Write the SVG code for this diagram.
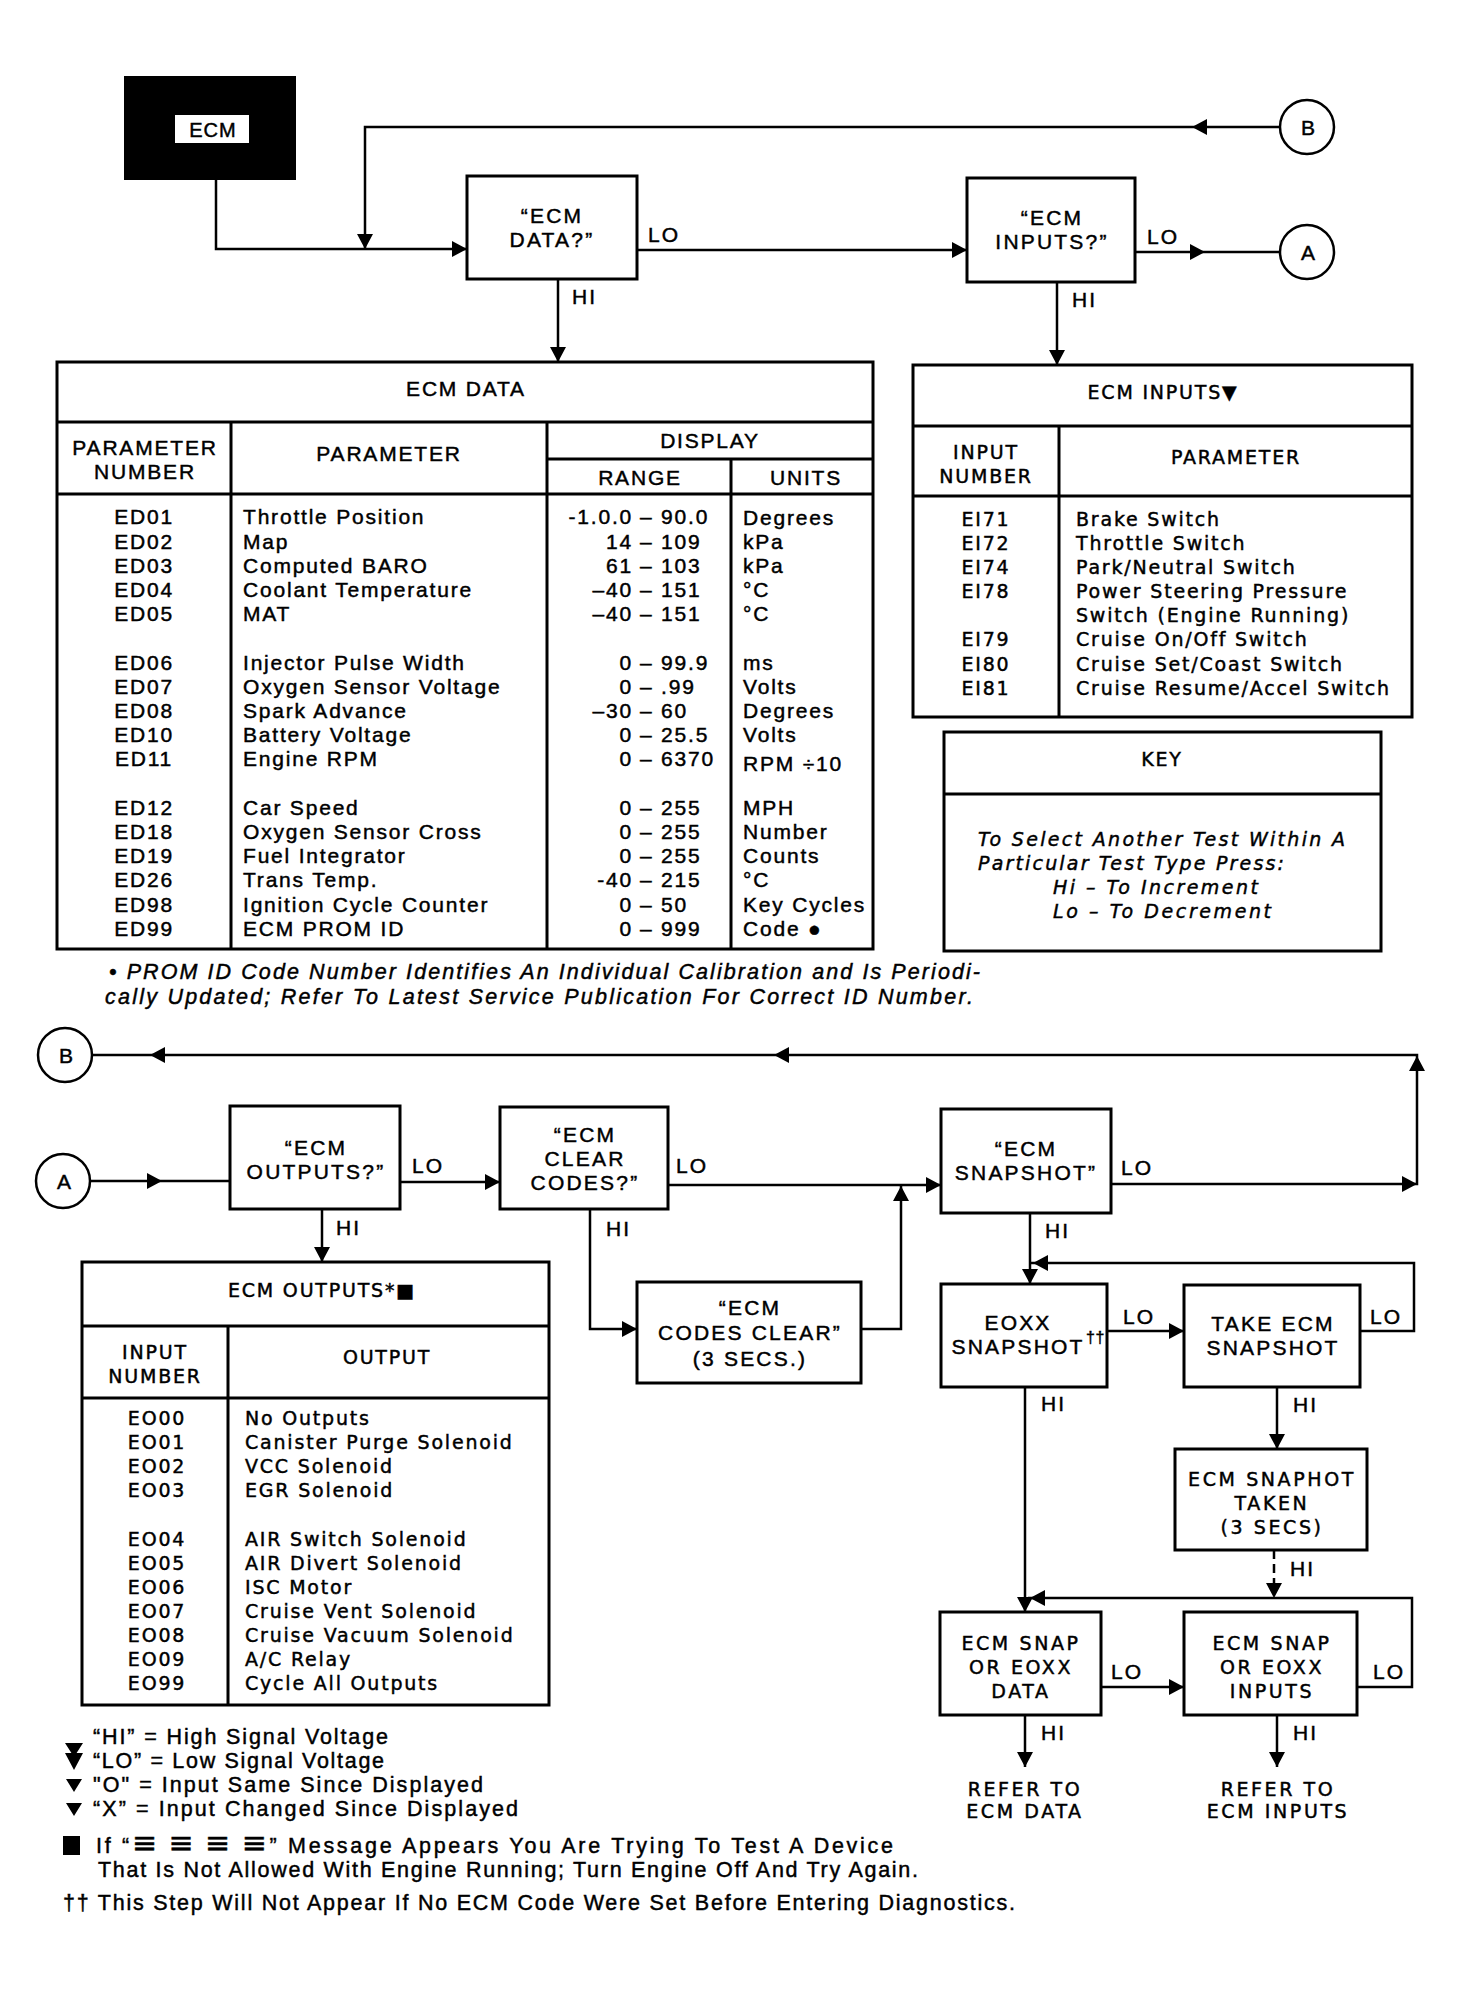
<svg xmlns="http://www.w3.org/2000/svg" xmlns:xlink="http://www.w3.org/1999/xlink" width="1460" height="1989" viewBox="0 0 1460 1989">
<defs>
<style>
.bx{fill:#fff;stroke:#000;stroke-width:3}
.ln{fill:none;stroke:#000;stroke-width:2.5}
.dash{stroke-dasharray:9,5}
text{fill:#000;stroke:#000;stroke-width:0.45}
.f{font-family:"Liberation Sans",Arial,sans-serif;font-size:21px;letter-spacing:2.2px;text-anchor:middle}
.fl{font-family:"Liberation Sans",Arial,sans-serif;font-size:21px;letter-spacing:2px}
.d{font-family:"Liberation Sans",Arial,sans-serif;font-size:21px;letter-spacing:1.8px}
.w{font-family:"DejaVu Sans",Verdana,sans-serif;font-size:19px;letter-spacing:1.8px}
.w2{font-family:"DejaVu Sans",Verdana,sans-serif;font-size:19px;letter-spacing:2.6px;text-anchor:middle}
.it{font-family:"Liberation Sans",Arial,sans-serif;font-style:italic;font-size:21.5px}
.wi{font-family:"DejaVu Sans",Verdana,sans-serif;font-style:oblique;font-size:19px}
.lg{font-family:"Liberation Sans",Arial,sans-serif;font-size:21.5px}
.big{font-family:"DejaVu Sans",sans-serif;font-size:30px}
.c{text-anchor:middle}
.e{text-anchor:end}
</style>
<path id="ar" d="M0,0 L-15,-8 L-15,8 Z" fill="#000"/>
</defs>
<rect width="1460" height="1989" fill="#fff"/>

<!-- ================= CONNECTORS ================= -->
<g id="connectors">
  <path class="ln" d="M216,180 V249 H467"/>
  <use xlink:href="#ar" transform="translate(467,249)"/>
  <path class="ln" d="M1280,127 H365 V249"/>
  <use xlink:href="#ar" transform="translate(1192,127) rotate(180)"/>
  <use xlink:href="#ar" transform="translate(365,249) rotate(90)"/>
  <path class="ln" d="M637,250 H967"/>
  <use xlink:href="#ar" transform="translate(967,250)"/>
  <path class="ln" d="M1135,252 H1280"/>
  <use xlink:href="#ar" transform="translate(1205,252)"/>
  <path class="ln" d="M558,279 V362"/>
  <use xlink:href="#ar" transform="translate(558,362) rotate(90)"/>
  <path class="ln" d="M1057,282 V365"/>
  <use xlink:href="#ar" transform="translate(1057,365) rotate(90)"/>

  <path class="ln" d="M1111,1184 H1417 V1055 H92"/>
  <use xlink:href="#ar" transform="translate(1417,1184)"/>
  <use xlink:href="#ar" transform="translate(1417,1056) rotate(-90)"/>
  <use xlink:href="#ar" transform="translate(774,1055) rotate(180)"/>
  <use xlink:href="#ar" transform="translate(150,1055) rotate(180)"/>
  <path class="ln" d="M90,1181 H230"/>
  <use xlink:href="#ar" transform="translate(162,1181)"/>
  <path class="ln" d="M400,1182 H500"/>
  <use xlink:href="#ar" transform="translate(500,1182)"/>
  <path class="ln" d="M668,1185 H941"/>
  <use xlink:href="#ar" transform="translate(941,1185)"/>
  <path class="ln" d="M322,1209 V1262"/>
  <use xlink:href="#ar" transform="translate(322,1262) rotate(90)"/>
  <path class="ln" d="M590,1209 V1329 H637"/>
  <use xlink:href="#ar" transform="translate(637,1329)"/>
  <path class="ln" d="M861,1329 H901 V1185"/>
  <use xlink:href="#ar" transform="translate(901,1186) rotate(-90)"/>
  <path class="ln" d="M1030,1213 V1284"/>
  <use xlink:href="#ar" transform="translate(1030,1284) rotate(90)"/>
  <path class="ln" d="M1107,1331 H1184"/>
  <use xlink:href="#ar" transform="translate(1184,1331)"/>
  <path class="ln" d="M1360,1331 H1414 V1263 H1031"/>
  <use xlink:href="#ar" transform="translate(1033,1263) rotate(180)"/>
  <path class="ln" d="M1277,1387 V1449"/>
  <use xlink:href="#ar" transform="translate(1277,1449) rotate(90)"/>
  <path class="ln dash" d="M1274,1550 V1590"/>
  <use xlink:href="#ar" transform="translate(1274,1598) rotate(90)"/>
  <path class="ln" d="M1025,1387 V1612"/>
  <use xlink:href="#ar" transform="translate(1025,1612) rotate(90)"/>
  <path class="ln" d="M1357,1687 H1412 V1598 H1028"/>
  <use xlink:href="#ar" transform="translate(1030,1598) rotate(180)"/>
  <path class="ln" d="M1101,1687 H1184"/>
  <use xlink:href="#ar" transform="translate(1184,1687)"/>
  <path class="ln" d="M1025,1715 V1767"/>
  <use xlink:href="#ar" transform="translate(1025,1767) rotate(90)"/>
  <path class="ln" d="M1277,1715 V1767"/>
  <use xlink:href="#ar" transform="translate(1277,1767) rotate(90)"/>
</g>

<g id="edge-labels" class="fl">
  <text x="648" y="242">LO</text>
  <text x="572" y="304">HI</text>
  <text x="1147" y="244">LO</text>
  <text x="1072" y="307">HI</text>
  <text x="412" y="1173">LO</text>
  <text x="676" y="1173">LO</text>
  <text x="1121" y="1175">LO</text>
  <text x="336" y="1235">HI</text>
  <text x="606" y="1236">HI</text>
  <text x="1045" y="1238">HI</text>
  <text x="1123" y="1324">LO</text>
  <text x="1370" y="1324">LO</text>
  <text x="1293" y="1412">HI</text>
  <text x="1041" y="1411">HI</text>
  <text x="1290" y="1576">HI</text>
  <text x="1111" y="1679">LO</text>
  <text x="1373" y="1679">LO</text>
  <text x="1041" y="1740">HI</text>
  <text x="1293" y="1740">HI</text>
</g>

<!-- ================= NODES ================= -->
<g id="ecm">
  <rect x="124" y="76" width="172" height="104" fill="#000"/>
  <rect x="175" y="115" width="74" height="28" fill="#fff"/>
  <text class="f" x="213" y="137" style="font-size:20px;letter-spacing:1px">ECM</text>
</g>

<g id="ecm-data-q">
  <rect class="bx" x="467" y="176" width="170" height="103"/>
  <text class="f" x="552" y="223">“ECM</text>
  <text class="f" x="552" y="247">DATA?”</text>
</g>

<g id="ecm-inputs-q">
  <rect class="bx" x="967" y="178" width="168" height="104"/>
  <text class="f" x="1052" y="225">“ECM</text>
  <text class="f" x="1052" y="249">INPUTS?”</text>
</g>

<g id="circle-b-top">
  <circle cx="1307" cy="127" r="27" class="bx" style="stroke-width:2.5"/>
  <text class="f" x="1308" y="135" style="letter-spacing:0">B</text>
</g>
<g id="circle-a-top">
  <circle cx="1307" cy="252" r="27" class="bx" style="stroke-width:2.5"/>
  <text class="f" x="1308" y="260" style="letter-spacing:0">A</text>
</g>

<g id="ecm-data-table">
  <rect class="bx" x="57" y="362" width="816" height="587"/>
  <path class="ln" style="stroke-width:3" d="M57,422 H873 M231,422 V949 M547,422 V949 M547,459 H873 M731,459 V949 M57,494 H873"/>
  <text class="d c" x="466" y="396">ECM DATA</text>
  <text class="d c" x="145" y="455">PARAMETER</text>
  <text class="d c" x="145" y="479">NUMBER</text>
  <text class="d c" x="389" y="461">PARAMETER</text>
  <text class="d c" x="710" y="448">DISPLAY</text>
  <text class="d c" x="640" y="485">RANGE</text>
  <text class="d c" x="806" y="485">UNITS</text>
  <g class="d c">
    <text x="144" y="524">ED01</text>
    <text x="144" y="549">ED02</text>
    <text x="144" y="573">ED03</text>
    <text x="144" y="597">ED04</text>
    <text x="144" y="621">ED05</text>
    <text x="144" y="670">ED06</text>
    <text x="144" y="694">ED07</text>
    <text x="144" y="718">ED08</text>
    <text x="144" y="742">ED10</text>
    <text x="144" y="766">ED11</text>
    <text x="144" y="815">ED12</text>
    <text x="144" y="839">ED18</text>
    <text x="144" y="863">ED19</text>
    <text x="144" y="887">ED26</text>
    <text x="144" y="912">ED98</text>
    <text x="144" y="936">ED99</text>
  </g>
  <g class="d">
    <text x="243" y="524">Throttle Position</text>
    <text x="243" y="549">Map</text>
    <text x="243" y="573">Computed BARO</text>
    <text x="243" y="597">Coolant Temperature</text>
    <text x="243" y="621">MAT</text>
    <text x="243" y="670">Injector Pulse Width</text>
    <text x="243" y="694">Oxygen Sensor Voltage</text>
    <text x="243" y="718">Spark Advance</text>
    <text x="243" y="742">Battery Voltage</text>
    <text x="243" y="766">Engine RPM</text>
    <text x="243" y="815">Car Speed</text>
    <text x="243" y="839">Oxygen Sensor Cross</text>
    <text x="243" y="863">Fuel Integrator</text>
    <text x="243" y="887">Trans Temp.</text>
    <text x="243" y="912">Ignition Cycle Counter</text>
    <text x="243" y="936">ECM PROM ID</text>
  </g>
  <g class="d e">
    <text x="633" y="524">-1.0.0</text>
    <text x="633" y="549">14</text>
    <text x="633" y="573">61</text>
    <text x="633" y="597">–40</text>
    <text x="633" y="621">–40</text>
    <text x="633" y="670">0</text>
    <text x="633" y="694">0</text>
    <text x="633" y="718">–30</text>
    <text x="633" y="742">0</text>
    <text x="633" y="766">0</text>
    <text x="633" y="815">0</text>
    <text x="633" y="839">0</text>
    <text x="633" y="863">0</text>
    <text x="633" y="887">-40</text>
    <text x="633" y="912">0</text>
    <text x="633" y="936">0</text>
  </g>
  <g class="d">
    <text x="640" y="524">– 90.0</text>
    <text x="640" y="549">– 109</text>
    <text x="640" y="573">– 103</text>
    <text x="640" y="597">– 151</text>
    <text x="640" y="621">– 151</text>
    <text x="640" y="670">– 99.9</text>
    <text x="640" y="694">– .99</text>
    <text x="640" y="718">– 60</text>
    <text x="640" y="742">– 25.5</text>
    <text x="640" y="766">– 6370</text>
    <text x="640" y="815">– 255</text>
    <text x="640" y="839">– 255</text>
    <text x="640" y="863">– 255</text>
    <text x="640" y="887">– 215</text>
    <text x="640" y="912">– 50</text>
    <text x="640" y="936">– 999</text>
  </g>
  <g class="d">
    <text x="743" y="525">Degrees</text>
    <text x="743" y="549">kPa</text>
    <text x="743" y="573">kPa</text>
    <text x="743" y="597">°C</text>
    <text x="743" y="621">°C</text>
    <text x="743" y="670">ms</text>
    <text x="743" y="694">Volts</text>
    <text x="743" y="718">Degrees</text>
    <text x="743" y="742">Volts</text>
    <text x="743" y="771">RPM ÷10</text>
    <text x="743" y="815">MPH</text>
    <text x="743" y="839">Number</text>
    <text x="743" y="863">Counts</text>
    <text x="743" y="887">°C</text>
    <text x="743" y="912">Key Cycles</text>
    <text x="743" y="936">Code ●</text>
  </g>
</g>

<g id="prom-note" class="it">
  <text x="109" y="979" textLength="871" lengthAdjust="spacing">• PROM ID Code Number Identifies An Individual Calibration  and Is Periodi-</text>
  <text x="105" y="1004" textLength="868" lengthAdjust="spacing">cally  Updated; Refer To Latest Service Publication For Correct ID Number.</text>
</g>

<g id="ecm-inputs-table">
  <rect class="bx" x="913" y="365" width="499" height="352"/>
  <path class="ln" style="stroke-width:3" d="M913,426 H1412 M1059,426 V717 M913,496 H1412"/>
  <text class="w c" x="1163" y="399">ECM INPUTS▼</text>
  <text class="w c" x="986" y="459">INPUT</text>
  <text class="w c" x="986" y="483">NUMBER</text>
  <text class="w c" x="1236" y="464">PARAMETER</text>
  <g class="w c">
    <text x="986" y="526">EI71</text>
    <text x="986" y="550">EI72</text>
    <text x="986" y="574">EI74</text>
    <text x="986" y="598">EI78</text>
    <text x="986" y="646">EI79</text>
    <text x="986" y="671">EI80</text>
    <text x="986" y="695">EI81</text>
  </g>
  <g class="w">
    <text x="1076" y="526">Brake Switch</text>
    <text x="1076" y="550">Throttle Switch</text>
    <text x="1076" y="574">Park/Neutral Switch</text>
    <text x="1076" y="598">Power Steering Pressure</text>
    <text x="1076" y="622">Switch (Engine Running)</text>
    <text x="1076" y="646">Cruise On/Off Switch</text>
    <text x="1076" y="671">Cruise Set/Coast Switch</text>
    <text x="1076" y="695">Cruise Resume/Accel Switch</text>
  </g>
</g>

<g id="key">
  <rect class="bx" x="944" y="732" width="437" height="219"/>
  <path class="ln" style="stroke-width:3" d="M944,794 H1381"/>
  <text class="w c" x="1162" y="766">KEY</text>
  <g class="wi">
    <text x="978" y="846" textLength="367" lengthAdjust="spacing">To Select Another Test Within A</text>
    <text x="978" y="870" textLength="306" lengthAdjust="spacing">Particular Test Type Press:</text>
    <text x="1053" y="894" textLength="205" lengthAdjust="spacing">Hi – To Increment</text>
    <text x="1053" y="918" textLength="218" lengthAdjust="spacing">Lo – To Decrement</text>
  </g>
</g>

<g id="circle-b-bottom">
  <circle cx="65" cy="1055" r="27" class="bx" style="stroke-width:2.5"/>
  <text class="f" x="66" y="1063" style="letter-spacing:0">B</text>
</g>
<g id="circle-a-bottom">
  <circle cx="63" cy="1181" r="27" class="bx" style="stroke-width:2.5"/>
  <text class="f" x="64" y="1189" style="letter-spacing:0">A</text>
</g>

<g id="ecm-outputs-q">
  <rect class="bx" x="230" y="1106" width="170" height="103"/>
  <text class="f" x="316" y="1155">“ECM</text>
  <text class="f" x="316" y="1179">OUTPUTS?”</text>
</g>

<g id="ecm-clear-codes-q">
  <rect class="bx" x="500" y="1107" width="168" height="102"/>
  <text class="f" x="585" y="1142">“ECM</text>
  <text class="f" x="585" y="1166">CLEAR</text>
  <text class="f" x="585" y="1190">CODES?”</text>
</g>

<g id="ecm-codes-clear">
  <rect class="bx" x="637" y="1282" width="224" height="101"/>
  <text class="f" x="750" y="1315">“ECM</text>
  <text class="f" x="750" y="1340">CODES CLEAR”</text>
  <text class="f" x="750" y="1366">(3 SECS.)</text>
</g>

<g id="ecm-snapshot-q">
  <rect class="bx" x="941" y="1109" width="170" height="104"/>
  <text class="f" x="1026" y="1156">“ECM</text>
  <text class="f" x="1026" y="1180">SNAPSHOT”</text>
</g>

<g id="eoxx-snapshot">
  <rect class="bx" x="941" y="1284" width="166" height="103"/>
  <text class="f" x="1018" y="1330">EOXX</text>
  <text class="f" x="1018" y="1354">SNAPSHOT</text>
  <text class="fl" x="1086" y="1343" style="font-size:16px;letter-spacing:0.5px">††</text>
</g>

<g id="take-ecm-snapshot">
  <rect class="bx" x="1184" y="1285" width="176" height="102"/>
  <text class="f" x="1273" y="1331">TAKE ECM</text>
  <text class="f" x="1273" y="1355">SNAPSHOT</text>
</g>

<g id="ecm-snaphot-taken">
  <rect class="bx" x="1175" y="1449" width="192" height="101"/>
  <text class="w2" x="1272" y="1486">ECM SNAPHOT</text>
  <text class="w2" x="1272" y="1510">TAKEN</text>
  <text class="w2" x="1272" y="1534">(3 SECS)</text>
</g>

<g id="ecm-snap-data">
  <rect class="bx" x="940" y="1612" width="161" height="103"/>
  <text class="w2" x="1021" y="1650">ECM SNAP</text>
  <text class="w2" x="1021" y="1674">OR EOXX</text>
  <text class="w2" x="1021" y="1698">DATA</text>
</g>

<g id="ecm-snap-inputs">
  <rect class="bx" x="1184" y="1612" width="173" height="103"/>
  <text class="w2" x="1272" y="1650">ECM SNAP</text>
  <text class="w2" x="1272" y="1674">OR EOXX</text>
  <text class="w2" x="1272" y="1698">INPUTS</text>
</g>

<g id="refer-ecm-data">
  <text class="w2" x="1025" y="1796">REFER TO</text>
  <text class="w2" x="1025" y="1818">ECM DATA</text>
</g>
<g id="refer-ecm-inputs">
  <text class="w2" x="1278" y="1796">REFER TO</text>
  <text class="w2" x="1278" y="1818">ECM INPUTS</text>
</g>

<g id="ecm-outputs-table">
  <rect class="bx" x="82" y="1262" width="467" height="443"/>
  <path class="ln" style="stroke-width:3" d="M82,1326 H549 M228,1326 V1705 M82,1398 H549"/>
  <text class="w c" x="322" y="1297">ECM OUTPUTS*■</text>
  <text class="w c" x="155" y="1359">INPUT</text>
  <text class="w c" x="155" y="1383">NUMBER</text>
  <text class="w c" x="387" y="1364">OUTPUT</text>
  <g class="w c">
    <text x="157" y="1425">EO00</text>
    <text x="157" y="1449">EO01</text>
    <text x="157" y="1473">EO02</text>
    <text x="157" y="1497">EO03</text>
    <text x="157" y="1546">EO04</text>
    <text x="157" y="1570">EO05</text>
    <text x="157" y="1594">EO06</text>
    <text x="157" y="1618">EO07</text>
    <text x="157" y="1642">EO08</text>
    <text x="157" y="1666">EO09</text>
    <text x="157" y="1690">EO99</text>
  </g>
  <g class="w">
    <text x="245" y="1425">No Outputs</text>
    <text x="245" y="1449">Canister Purge Solenoid</text>
    <text x="245" y="1473">VCC Solenoid</text>
    <text x="245" y="1497">EGR Solenoid</text>
    <text x="245" y="1546">AIR Switch Solenoid</text>
    <text x="245" y="1570">AIR Divert Solenoid</text>
    <text x="245" y="1594">ISC Motor</text>
    <text x="245" y="1618">Cruise Vent Solenoid</text>
    <text x="245" y="1642">Cruise Vacuum Solenoid</text>
    <text x="245" y="1666">A/C Relay</text>
    <text x="245" y="1690">Cycle All Outputs</text>
  </g>
</g>

<g id="legend">
  <path d="M65,1743 H83 L74,1757 Z M65,1753 H83 L74,1770 Z M66,1779 H82 L74,1792 Z M66,1803 H82 L74,1816 Z" fill="#000"/>
  <g class="lg">
    <text x="93" y="1744" textLength="295" lengthAdjust="spacing">“HI”  = High Signal Voltage</text>
    <text x="93" y="1768" textLength="291" lengthAdjust="spacing">“LO” = Low Signal Voltage</text>
    <text x="93" y="1792" textLength="390" lengthAdjust="spacing">"O"   = Input Same Since Displayed</text>
    <text x="93" y="1816" textLength="425" lengthAdjust="spacing">“X”   = Input Changed Since Displayed</text>
  </g>
  <rect x="63" y="1836" width="17" height="19" fill="#000"/>
  <g class="lg">
    <text x="96" y="1853" textLength="797" lengthAdjust="spacing">If “<tspan class="big">≡</tspan> <tspan class="big">≡</tspan> <tspan class="big">≡</tspan> <tspan class="big">≡</tspan>” Message Appears You Are Trying To Test A Device</text>
    <text x="98" y="1877" textLength="820" lengthAdjust="spacing">That Is Not Allowed With Engine Running; Turn Engine Off And Try Again.</text>
    <text x="63" y="1910" textLength="952" lengthAdjust="spacing">†† This Step Will Not Appear If No ECM Code Were Set Before Entering Diagnostics.</text>
  </g>
</g>
</svg>
